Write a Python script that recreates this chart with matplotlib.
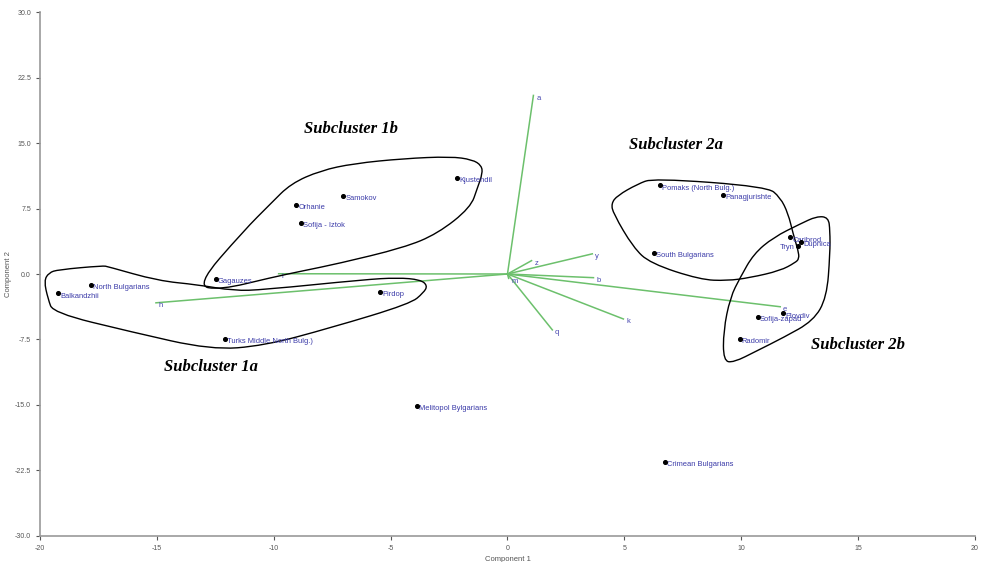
import numpy as np
import matplotlib.pyplot as plt
from matplotlib.path import Path
from matplotlib.patches import PathPatch

plt.rcParams['font.family'] = ['Liberation Sans', 'DejaVu Sans']
plt.rcParams['axes.unicode_minus'] = False

# population scores (component 1, component 2)
pop_names = ['Balkandzhii', 'North Bulgarians', 'Gagauzes', 'Pirdop',
             'Turks Middle North Bulg.)', 'Orhanie', 'Samokov', 'Sofija - Iztok',
             'Kjustendil', 'Melitopol Bylgarians', 'Crimean Bulgarians',
             'Pomaks (North Bulg.)', 'Panagjurishte', 'South Bulgarians',
             'Caribrod', 'Tryn', 'Dupnica', 'Plovdiv', 'Sofija-zapad', 'Radomir']
pop_x = [-19.22, -17.82, -12.48, -5.46, -12.08, -9.03, -7.02, -8.82,
         -2.15, -3.89, 6.72, 6.54, 9.24, 6.25, 12.09, 12.41, 12.56,
         11.78, 10.71, 9.93]
pop_y = [-2.22, -1.26, -0.57, -2.03, -7.45, 7.91, 8.94, 5.88,
         11.0, -15.1, -21.5, 10.16, 9.09, 2.44, 4.2, 3.25, 3.67,
         -4.52, -4.9, -7.45]

# variable loadings (biplot)
var_names = ['a', 'z', 'y', 'b', 'e', 'k', 'q', 'm', 'h', 'i']
var_x = [1.11, 1.03, 3.63, 3.68, 11.67, 4.96, 1.92, 0.05, -15.04, -9.79]
var_y = [20.45, 1.53, 2.31, -0.42, -3.75, -5.15, -6.4, -0.5, -3.3, 0.03]

# hand drawn cluster outlines
c1a_x = [-19.62, -19.23, -17.31, -17.09, -14.96, -13.25, -11.71, -10.43, -6.15,
         -4.70, -3.72, -3.42, -3.59, -4.15, -7.56, -10.43, -12.69, -16.11,
         -19.44, -19.66, -19.83]
c1a_y = [0.15, 0.49, 0.95, 0.84, -0.77, -1.23, -1.92, -1.80, -0.65,
         -0.42, -0.65, -1.34, -2.14, -3.40, -6.16, -8.22, -8.68, -6.62,
         -4.44, -2.83, -0.77]
c1b_x = [-13.33, -11.28, -10.13, -9.27, -7.99, -6.58, -4.44, -2.44, -1.50,
         -1.11, -1.07, -1.28, -1.58, -2.99, -4.44, -7.26, -8.72, -10.13, -12.26]
c1b_y = [-1.34, 4.97, 8.06, 10.35, 11.85, 12.65, 13.22, 13.45, 13.10,
         12.42, 11.50, 9.90, 7.60, 4.62, 3.01, 1.18, 0.38, -0.42, -1.80]
c2a_x = [6.24, 11.11, 11.67, 12.01, 12.22, 12.44, 12.48, 12.31, 11.67,
         10.38, 9.40, 8.25, 6.11, 5.38, 4.53, 4.44, 4.70, 5.56]
c2a_y = [10.97, 10.01, 8.78, 6.92, 4.62, 2.67, 1.75, 1.30, 0.38,
         -0.42, -0.77, -0.65, 1.22, 3.05, 6.92, 8.07, 8.98, 10.29]
c2b_x = [13.23, 13.73, 13.80, 13.80, 13.66, 13.09, 11.81, 10.67, 9.67,
         9.24, 9.24, 9.53, 9.96, 10.53, 11.38, 12.52]
c2b_y = [6.61, 6.49, 4.97, 2.29, -2.68, -5.36, -7.27, -8.80, -10.14,
         -9.94, -6.50, -2.68, -0.39, 2.29, 4.20, 5.73]

cluster_names = ['Subcluster 1a', 'Subcluster 1b', 'Subcluster 2a', 'Subcluster 2b']
cluster_lx = [-12.7, -6.7, 7.2, 15.0]
cluster_ly = [-10.65, 16.6, 14.8, -8.1]


def smooth_closed(xs, ys):
    pts = np.column_stack([xs, ys])
    mids = (pts + np.roll(pts, -1, axis=0)) / 2
    verts = [mids[-1]]
    codes = [Path.MOVETO]
    for i in range(len(pts)):
        verts += [pts[i], mids[i]]
        codes += [Path.CURVE3, Path.CURVE3]
    return Path(verts, codes)


fig = plt.figure(figsize=(9.81, 5.62), dpi=100)
ax = fig.add_axes([0.0408, 0.0463, 0.953, 0.9323])

# loadings
for name, vx, vy in zip(var_names, var_x, var_y):
    ax.plot([0, vx], [0, vy], color='#6cc06c', lw=1.1, zorder=2)
    ax.annotate(name, (vx, vy), xytext=(2, -2), textcoords='offset points',
                fontsize=5.5, color='#4848b0', va='center', ha='left')

# outlines
for cx, cy in [(c1a_x, c1a_y), (c1b_x, c1b_y), (c2a_x, c2a_y), (c2b_x, c2b_y)]:
    ax.add_patch(PathPatch(smooth_closed(cx, cy), fill=False, ec='black', lw=1.0, zorder=3))

# populations
ax.scatter(pop_x, pop_y, s=7, color='black', zorder=4)
for name, px, py in zip(pop_names, pop_x, pop_y):
    if name == 'Tryn':
        ax.annotate(name, (px, py), xytext=(-2, -1), textcoords='offset points',
                    fontsize=5.4, color='#3a3aa8', va='center', ha='right')
    else:
        ax.annotate(name, (px, py), xytext=(1.5, -2), textcoords='offset points',
                    fontsize=5.4, color='#3a3aa8', va='center', ha='left')

for name, lx, ly in zip(cluster_names, cluster_lx, cluster_ly):
    ax.text(lx, ly, name, fontsize=12, fontweight='bold', style='italic',
            family='Liberation Serif', ha='center', va='center')

ax.set_xlim(-20, 20)
ax.set_ylim(-30, 30)
ax.set_xticks(np.arange(-20, 21, 5))
ax.set_yticks(np.arange(-30, 30.1, 7.5))
ax.set_yticklabels(['%.1f' % v for v in np.arange(-30, 30.1, 7.5)])
for s in ['top', 'right']:
    ax.spines[s].set_visible(False)
for s in ['left', 'bottom']:
    ax.spines[s].set_color('#999999')
    ax.spines[s].set_linewidth(1.2)
ax.tick_params(labelsize=5, colors='#555555', length=3, width=0.8)
ax.set_xlabel('Component 1', fontsize=5.5, color='#555555', labelpad=3)
ax.set_ylabel('Component 2', fontsize=5.5, color='#555555', labelpad=2)

fig.savefig('out.png', dpi=100)
